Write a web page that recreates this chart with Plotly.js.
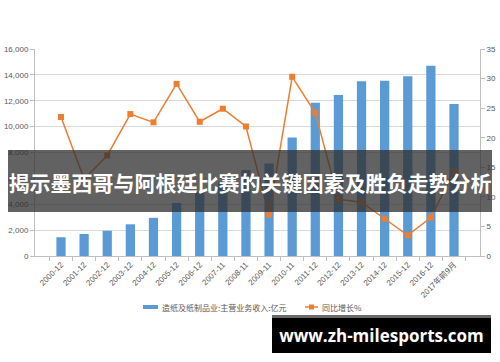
<!DOCTYPE html>
<html>
<head>
<meta charset="utf-8">
<script src="https://cdn.plot.ly/plotly-3.0.1.min.js"></script>
<style>
html,body{margin:0;padding:0;background:#fff;}
#wrap{position:relative;width:500px;height:362px;overflow:hidden;}
#chart{position:absolute;left:0;top:0;width:500px;height:362px;}
#banner{position:absolute;left:8px;top:150px;width:484px;height:62px;background:rgba(45,45,45,0.75);
  color:#fff;font-family:"Noto Sans CJK SC",sans-serif;font-weight:bold;font-size:21px;line-height:64px;
  text-align:center;white-space:nowrap;letter-spacing:0px;}
#wm{position:absolute;left:272px;top:315px;width:219px;height:38px;background:#000;border-top:3px solid #6a6a6a;box-sizing:border-box;
  color:#fff;font-family:"Open Sans","DejaVu Sans",sans-serif;font-weight:bold;font-size:17px;line-height:35px;text-align:center;white-space:nowrap;}
</style>
</head>
<body>
<div id="wrap">
<div id="chart"></div>
<div id="banner">揭示墨西哥与阿根廷比赛的关键因素及胜负走势分析</div>
<div id="wm">www.zh-milesports.com</div>
</div>
<script>
const categories = ["2000-12","2001-12","2002-12","2003-12","2004-12","2005-12","2006-12","2007-11","2008-11","2009-11","2010-11","2011-12","2012-12","2013-12","2014-12","2015-12","2016-12","2017年前9月"];
const revenue = [1450,1700,1950,2450,2950,4100,5000,5700,6650,7150,9150,11850,12450,13500,13550,13900,14700,11750];
const growth = [23.5,13.0,17.0,24.0,22.6,29.1,22.7,24.9,21.9,7.0,30.3,24.2,9.6,9.1,6.3,3.5,6.5,14.3];
const barName = "造纸及纸制品业:主营业务收入:亿元";
const lineName = "同比增长%";

const barColor = "#5B9BD5", lineColor = "#ED7D31";
const tickFont = {family:"Liberation Sans, Noto Sans CJK SC, sans-serif", size:8, color:"#595959"};
const legFont = {family:"Noto Sans CJK SC, sans-serif", size:8, color:"#595959"};

// plot area in pixels: x 35..480, y 49..256
const px = x => (x - 35) / 445;
const py = y => (256 - y) / 207;

const traces = [
  {type:"bar", x:categories, y:revenue, name:barName, marker:{color:barColor}, yaxis:"y"},
  {type:"scatter", mode:"lines+markers", x:categories, y:growth, name:lineName, yaxis:"y2",
   line:{color:lineColor, width:1.5}, marker:{color:lineColor, symbol:"square", size:6}}
];
const layout = {
  width:500, height:362,
  margin:{l:35, r:20, t:49, b:106},
  paper_bgcolor:"#fff", plot_bgcolor:"#fff",
  bargap:0.6,
  showlegend:false,
  xaxis:{type:"category", tickangle:-45, tickfont:tickFont, showline:true, linecolor:"#bfbfbf",
    ticks:"outside", ticklen:4, tickcolor:"#bfbfbf", showgrid:false, tickson:"boundaries"},
  yaxis:{range:[0,16000], dtick:2000, tickformat:",", tickfont:tickFont, showline:true, linecolor:"#bfbfbf",
    ticks:"outside", ticklen:4, tickcolor:"#bfbfbf", gridcolor:"#d9d9d9", zeroline:false},
  yaxis2:{range:[0,35], dtick:5, overlaying:"y", side:"right", tickfont:tickFont, showline:true, linecolor:"#bfbfbf",
    ticks:"outside", ticklen:4, tickcolor:"#bfbfbf", showgrid:false, zeroline:false},
  shapes:[
    {type:"rect", xref:"paper", yref:"paper", x0:px(143), x1:px(158), y0:py(309), y1:py(305), fillcolor:barColor, line:{width:0}},
    {type:"line", xref:"paper", yref:"paper", x0:px(305), x1:px(318), y0:py(307), y1:py(307), line:{color:lineColor, width:1.5}},
    {type:"rect", xref:"paper", yref:"paper", x0:px(309), x1:px(314), y0:py(309.5), y1:py(304.5), fillcolor:lineColor, line:{width:0}}
  ],
  annotations:[
    {xref:"paper", yref:"paper", x:px(160), y:py(307), xanchor:"left", yanchor:"middle", text:barName, showarrow:false, font:legFont},
    {xref:"paper", yref:"paper", x:px(320), y:py(307), xanchor:"left", yanchor:"middle", text:lineName, showarrow:false, font:legFont}
  ]
};
Plotly.newPlot("chart", traces, layout, {displayModeBar:false, staticPlot:true});
</script>
</body>
</html>
